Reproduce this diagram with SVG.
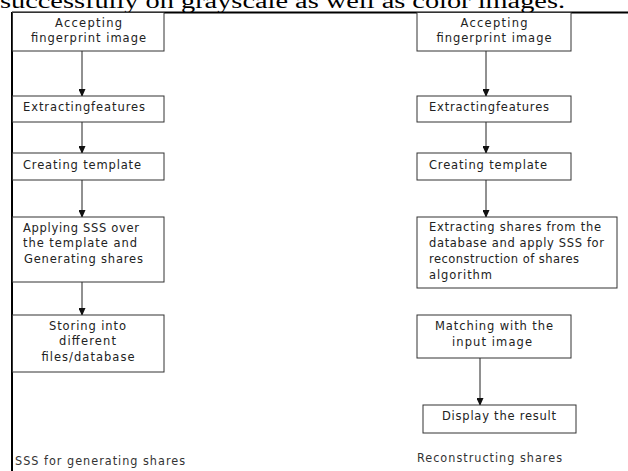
<svg xmlns="http://www.w3.org/2000/svg" width="628" height="471" viewBox="0 0 628 471">
<style>
.box{fill:#fff;stroke:#333;stroke-width:1}
.t{font-family:"DejaVu Sans",sans-serif;font-size:11.5px;fill:#222}
.c{text-anchor:middle}
.lbl{font-family:"DejaVu Sans Condensed","Liberation Sans Narrow",sans-serif;font-size:12.5px;fill:#333}
.conn{stroke:#222;stroke-width:1;fill:none;marker-end:url(#ah)}
</style>
<defs>
<marker id="ah" viewBox="0 0 8 7" refX="7" refY="3.5" markerWidth="8" markerHeight="7" markerUnits="userSpaceOnUse" orient="auto">
<path d="M0,0 L8,3.5 L0,7 Z" fill="#111"/>
</marker>
</defs>
<rect width="628" height="471" fill="#fff"/>
<text x="0" y="8" font-family="Liberation Serif,serif" font-size="20" textLength="565" lengthAdjust="spacingAndGlyphs" fill="#000">successfully on grayscale as well as color images.</text>
<line x1="12" y1="12.5" x2="628" y2="12.5" stroke="#000" stroke-width="2"/>
<line x1="12" y1="12" x2="12" y2="471" stroke="#000" stroke-width="2"/>

<g id="connectors">
<line class="conn" x1="82" y1="51" x2="82" y2="96"/>
<line class="conn" x1="82" y1="122" x2="82" y2="153"/>
<line class="conn" x1="82" y1="180" x2="82" y2="217"/>
<line class="conn" x1="82" y1="282" x2="82" y2="315"/>
<line class="conn" x1="486" y1="51" x2="486" y2="96"/>
<line class="conn" x1="486" y1="122" x2="486" y2="153"/>
<line class="conn" x1="486" y1="180" x2="486" y2="217"/>
<line class="conn" x1="480" y1="358" x2="480" y2="405"/>
</g>

<g id="l1"><rect class="box" x="12.5" y="12.5" width="151.5" height="38.5"/>
<text class="t c" x="88.5" y="27" textLength="67">Accepting</text><text class="t c" x="88.5" y="42" textLength="115">fingerprint image</text></g>
<g id="l2"><rect class="box" x="12.5" y="96" width="151.5" height="26"/>
<text class="t" x="23" y="111" textLength="122">Extractingfeatures</text></g>
<g id="l3"><rect class="box" x="12.5" y="153" width="151.5" height="27"/>
<text class="t" x="23" y="169" textLength="118">Creating template</text></g>
<g id="l4"><rect class="box" x="12.5" y="217" width="151.5" height="65"/>
<text class="t" x="23" y="232" textLength="116">Applying SSS over</text><text class="t" x="23" y="247" textLength="114">the template and</text><text class="t" x="24" y="263" textLength="119">Generating shares</text></g>
<g id="l5"><rect class="box" x="12.5" y="315" width="151.5" height="57"/>
<text class="t c" x="87.5" y="330" textLength="77">Storing into</text><text class="t c" x="87.5" y="345" textLength="57">different</text><text class="t c" x="88" y="361" textLength="93">files/database</text></g>
<text class="lbl" x="15" y="465" textLength="170">SSS for generating shares</text>

<g id="r1"><rect class="box" x="417" y="12.5" width="154" height="38.5"/>
<text class="t c" x="494" y="27" textLength="67">Accepting</text><text class="t c" x="494" y="42" textLength="115">fingerprint image</text></g>
<g id="r2"><rect class="box" x="417" y="96" width="154" height="26"/>
<text class="t" x="429" y="111" textLength="120">Extractingfeatures</text></g>
<g id="r3"><rect class="box" x="417" y="153" width="154" height="27"/>
<text class="t" x="429" y="169" textLength="118">Creating template</text></g>
<g id="r4"><rect class="box" x="417" y="217" width="200" height="71"/>
<text class="t" x="429" y="231" textLength="172">Extracting shares from the</text><text class="t" x="429" y="247" textLength="175">database and apply SSS for</text><text class="t" x="429" y="263" textLength="150">reconstruction of shares</text><text class="t" x="429" y="279" textLength="63">algorithm</text></g>
<g id="r5"><rect class="box" x="417" y="315" width="154" height="43"/>
<text class="t c" x="494" y="330" textLength="118">Matching with the</text><text class="t c" x="492" y="346" textLength="80">input image</text></g>
<g id="r6"><rect class="box" x="423" y="405" width="153" height="28"/>
<text class="t c" x="499" y="420" textLength="114">Display the result</text></g>
<text class="lbl" x="417" y="462" textLength="145">Reconstructing shares</text>
</svg>
